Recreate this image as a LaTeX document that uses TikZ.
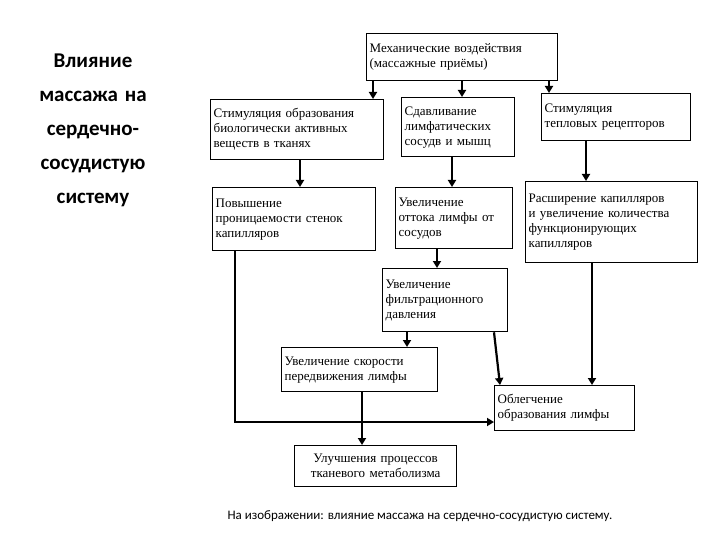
\documentclass[tikz,border=0pt]{standalone}
\usepackage{fontspec}
\setmainfont{Liberation Serif}
\newfontfamily\ttl{Carlito}
\usetikzlibrary{arrows.meta}
\begin{document}
\begin{tikzpicture}[x=1pt,y=-1pt,
 box/.style={draw,line width=1.3pt,anchor=north west,align=left,inner sep=3pt,font=\fontsize{13}{15}\selectfont},
 arr/.style={line width=2.2pt,-{Triangle[length=7pt,width=8pt]}}]
\useasboundingbox (0,0) rectangle (720,540);
\node[text width=160pt,align=center,font=\ttl\bfseries\fontsize{21}{34}\selectfont] (title) at (93,130) {Влияние массажа на сердечно-сосудистую систему};
\node[font=\ttl\fontsize{13}{15}\selectfont] (cap) at (420,516) {На изображении: влияние массажа на сердечно-сосудистую систему.};
\node[box,text width=185pt,minimum height=47pt] (mech) at (366,33) {Механические воздействия\\(массажные приёмы)};
\node[box,text width=167pt,minimum height=60pt] (stim) at (210,99) {Стимуляция образования\\биологически активных\\веществ в тканях};
\node[box,text width=107pt,minimum height=59pt] (sdav) at (401,97) {Сдавливание\\лимфатических\\сосудв и мышц};
\node[box,text width=143pt,minimum height=47pt] (teplo) at (541,93) {Стимуляция\\тепловых рецепторов};
\node[box,text width=157pt,minimum height=63pt] (pov) at (212,187) {Повышение\\проницаемости стенок\\капилляров};
\node[box,text width=111pt,minimum height=61pt] (ott) at (395,187) {Увеличение\\оттока лимфы от\\сосудов};
\node[box,text width=166pt,minimum height=81pt] (rasch) at (525,181) {Расширение капилляров\\и увеличение количества\\функционирующих\\капилляров};
\node[box,text width=119pt,minimum height=63pt] (filtr) at (382,268) {Увеличение\\фильтрационного\\давления};
\node[box,text width=150pt,minimum height=44pt] (skor) at (281,347) {Увеличение скорости\\передвижения лимфы};
\node[box,text width=134pt,minimum height=45pt] (obleg) at (494,385) {Облегчение\\образования лимфы};
\node[box,text width=156pt,minimum height=41pt,align=center] (metab) at (294,445) {Улучшения процессов\\тканевого метаболизма};
\draw[arr] (mech.south -| 373,0) -- (stim.north -| 373,0);
\draw[arr] (mech.south -| 462,0) -- (sdav.north -| 462,0);
\draw[arr] (mech.south -| 549,0) -- (teplo.north -| 549,0);
\draw[arr] (stim.south -| 300,0) -- (pov.north -| 300,0);
\draw[arr] (sdav.south -| 452,0) -- (ott.north -| 452,0);
\draw[arr] (teplo.south -| 586,0) -- (rasch.north -| 586,0);
\draw[arr] (ott.south -| 437,0) -- (filtr.north -| 437,0);
\draw[arr] (filtr.south -| 407,0) -- (skor.north -| 407,0);
\draw[arr] (filtr.south -| 494,0) -- (obleg.north -| 500,0);
\draw[arr] (rasch.south -| 592,0) -- (obleg.north -| 592,0);
\draw[arr] (skor.south -| 362,0) -- (metab.north -| 362,0);
\draw[arr] (pov.south -| 235,0) -- (235,422) -- (obleg.west |- 0,422);
\end{tikzpicture}
\end{document}
